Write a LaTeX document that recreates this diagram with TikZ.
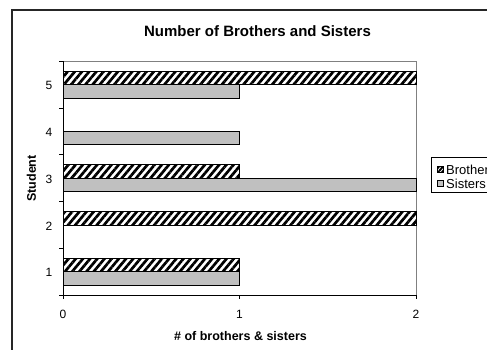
\documentclass[tikz,border=0pt]{standalone}
\usepackage{fontspec}
\setmainfont{Liberation Sans}
\usetikzlibrary{patterns.meta}
\definecolor{barGray}{RGB}{192,192,192}
\definecolor{frameGray}{RGB}{128,128,128}
\tikzset{
  hatchbar/.style={draw=black, line width=0.8pt,
    pattern={Lines[angle=50,distance=5.5pt,line width=2.7pt]}, pattern color=black},
  graybar/.style={draw=black, line width=0.8pt, fill=barGray},
  ticklab/.style={font=\fontsize{12}{14}\selectfont, inner sep=0pt},
  axistitle/.style={font=\fontsize{12.5}{15}\selectfont\bfseries, inner sep=0pt},
  legtext/.style={font=\fontsize{13}{15}\selectfont, inner sep=0pt, anchor=west},
}
\begin{document}
\begin{tikzpicture}[x=1pt,y=-1pt]
\useasboundingbox (0,0) rectangle (487,349);
\fill[white] (0,0) rectangle (487,349);
% outer chart frame
\draw[line width=1.3pt, black!85] (12,360) -- (12,10) -- (500,10);
% title
\node[font=\fontsize{15}{18}\selectfont\bfseries, inner sep=0pt] (title) at (257.5,31) {Number of Brothers and Sisters};
% plot area frame
\draw[frameGray, line width=0.6pt] (63,61.3) -- (416,61.3) -- (416,295);
% bars: category, brothers, sisters
\foreach \c/\b/\s in {5/2/1, 4/0/1, 3/1/2, 2/2/0, 1/1/1}{
  \pgfmathsetmacro{\cy}{61.3+(5-\c)*46.75+23.4}
  \ifnum\b>0
    \draw[hatchbar] (63,\cy-13.4) rectangle ({63+\b*176.5},\cy);
  \fi
  \ifnum\s>0
    \draw[graybar] (63,\cy) rectangle ({63+\s*176.5},\cy+13.4);
  \fi
  \node[ticklab] (ylab\c) at (49,\cy+1) {\c};
}
% axes
\draw[black, line width=0.8pt] (63,61.3) -- (63,295) -- (416,295);
\foreach \i in {0,...,5}{
  \draw[black, line width=0.8pt] (59,{61.3+\i*46.75}) -- (63,{61.3+\i*46.75});
}
\foreach \v in {0,1,2}{
  \draw[black, line width=0.8pt] ({63+\v*176.5},295) -- ({63+\v*176.5},299);
  \node[ticklab] (xlab\v) at ({63+\v*176.5},314) {\v};
}
% axis titles
\node[axistitle, rotate=90] (ytitle) at (31.5,178.5) {Student};
\node[axistitle] (xtitle) at (240.5,336) {\# of brothers \& sisters};
% legend
\draw[black, line width=0.6pt, fill=white] (431,157) rectangle (500,192);
\draw[hatchbar, line width=0.6pt, pattern={Lines[angle=50,distance=3pt,line width=2pt]}] (437,166.5) rectangle (443,172.5);
\draw[graybar, line width=0.6pt] (437,180.5) rectangle (443,186.5);
\node[legtext] (legB) at (446,169.5) {Brothers};
\node[legtext] (legS) at (446,183.5) {Sisters};
\end{tikzpicture}
\end{document}
